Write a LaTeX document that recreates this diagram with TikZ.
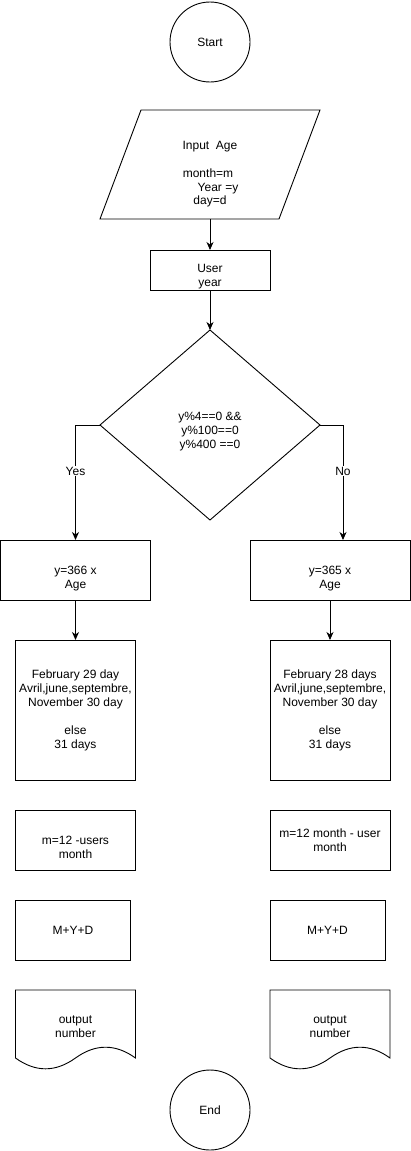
\documentclass[tikz,border=0pt]{standalone}
\usepackage{fontspec}
\setmainfont{Liberation Sans}
\usetikzlibrary{shapes.geometric,arrows.meta}
% document shape: #1 = left x, #2 = top y (width 120, height 80)
\newcommand\docpath[2]{%
  \draw[shp] (#1,#2) -- (#1+120,#2) -- (#1+120,#2+68)
    .. controls (#1+100,#2+53.6) and (#1+80,#2+53.6) .. (#1+60,#2+68)
    .. controls (#1+40,#2+82.4) and (#1+20,#2+82.4) .. (#1,#2+68) -- cycle;}
\begin{document}
\begin{tikzpicture}[x=1pt,y=-1pt,
  every node/.style={font=\fontsize{12}{14}\selectfont, inner sep=0pt, outer sep=0pt},
  shp/.style={draw, line width=0.9pt},
  frame/.style n args={2}{rectangle, minimum width=#1, minimum height=#2},
  box/.style n args={2}{shp, frame={#1}{#2}},
  circ/.style={shp, circle, minimum size=80},
  txt/.style={align=center},
  lbl/.style={fill=white, inner sep=1pt},
  arr/.style={draw, line width=0.9pt, -{Stealth[length=8pt,width=7pt,inset=2.5pt]}}
]
\path[use as bounding box, fill=white] (0,0) rectangle (411,1151);

% start
\node[circ] (start) at (210,42) {Start};

% input parallelogram
\node[frame={220}{109}] (para) at (210,164.5) {};
\draw[shp] ([xshift=41pt]para.north west) -- (para.north east) -- ([xshift=-41pt]para.south east) -- (para.south west) -- cycle;
\node[anchor=base] (t1) at (210,149.5) {Input\ \ Age};
\node[anchor=base] (t2) at (208,177.5) {month=m};
\node[anchor=base] (t3) at (218,191) {Year =y};
\node[anchor=base] (t4) at (210,204.5) {day=d};

% user year
\node[box={120}{40}] (ub) at (210,270) {};
\node[txt] (ubt) at (210,277) {User\\year};

% decision
\node[shp, diamond, minimum width=220, minimum height=190] (dia) at (210,425) {};
\node[txt] (diat) at (210,432) {y\%4==0 \&\&\\y\%100==0\\y\%400 ==0};

% year boxes
\node[box={150}{60}] (y366) at (75.5,570) {};
\node[txt] (y366t) at (75.5,578.5) {y=366 x\\Age};
\node[box={160}{60}] (y365) at (330,570) {};
\node[txt] (y365t) at (330,578.5) {y=365 x\\Age};

% month rules
\node[box={120}{140}, txt] (b1) at (75.5,710) {February 29 day\\Avril,june,septembre,\\November 30 day\\[14pt]else\\31 days};
\node[box={120}{140}, txt] (b2) at (330,710) {February 28 days\\Avril,june,septembre,\\November 30 day\\[14pt]else\\31 days};

% month boxes
\node[box={120}{60}] (m1) at (75.5,840) {};
\node[txt] (m1t) at (75.5,847.7) {m=12 -users\\month};
\node[box={120}{60}, txt] (m2) at (330,840) {m=12 month - user\\month};

% sums
\node[box={115}{60}] (s1) at (73,930) {M+Y+D};
\node[box={115}{60}] (s2) at (327.5,930) {M+Y+D};

% outputs
\node[frame={120}{80}] (o1) at (75.5,1030) {};
\docpath{15.5}{990}
\node[txt] (o1t) at (75.5,1027) {output\\number};
\node[frame={120}{80}] (o2) at (330,1030) {};
\docpath{270}{990}
\node[txt] (o2t) at (330,1027) {output\\number};

% end
\node[circ] (end) at (210,1110) {End};

% connectors
\draw[arr] (para.south) -- (ub.north);
\draw[arr] (ub.south) -- (dia.north);
\draw[arr] (dia.west) -| node[lbl, pos=0.7] (yes) {Yes} (y366.north);
\draw[arr] (dia.east) -| node[lbl, pos=0.7] (no) {No} ([xshift=13pt]y365.north);
\draw[arr] (y366.south) -- (b1.north);
\draw[arr] (y365.south) -- (b2.north);
\end{tikzpicture}
\end{document}
